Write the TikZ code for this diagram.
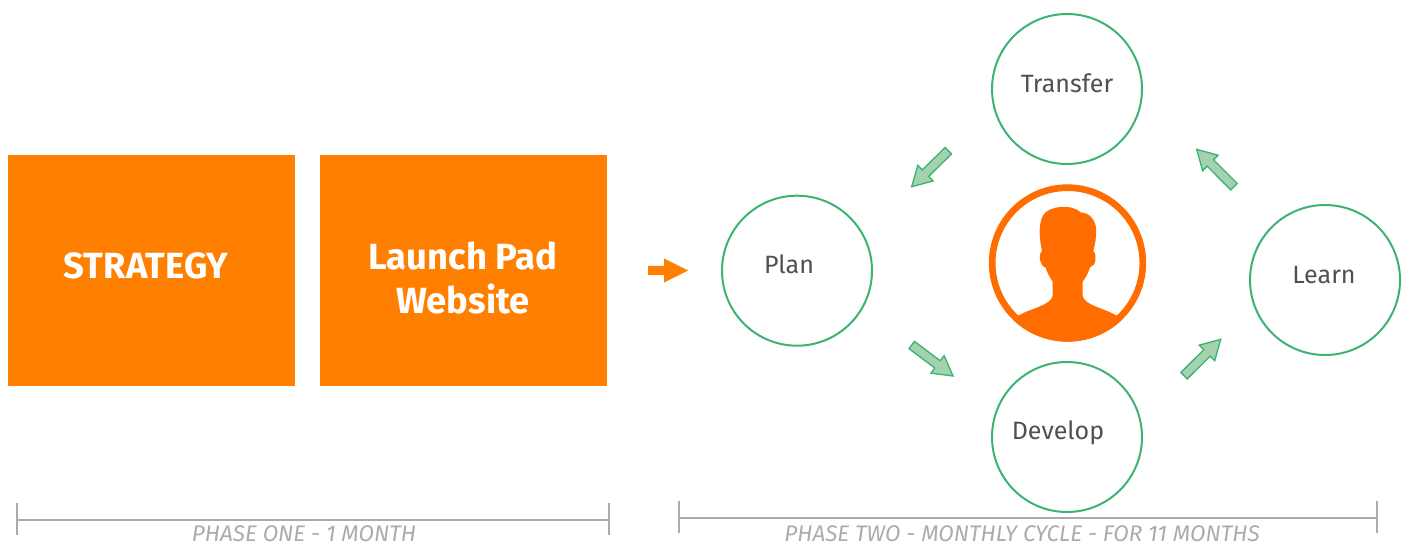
\documentclass[tikz,border=0pt]{standalone}
\usepackage{fontspec}
\setmainfont{Fira Sans}
\usetikzlibrary{calc}
\definecolor{orangebox}{HTML}{FF8000}
\definecolor{avatarorange}{HTML}{FF6D00}
\definecolor{greenline}{HTML}{3CB371}
\definecolor{greenfill}{HTML}{A5D2AE}
\definecolor{greytext}{HTML}{ABABAB}
\definecolor{greyline}{HTML}{ABABAB}
\definecolor{labeltext}{HTML}{505050}
\tikzset{
  phasebox/.style={fill=orangebox,draw=none,minimum width=215.25pt,minimum height=173.25pt,inner sep=0pt},
  boxtext/.style={text=white,font=\fontsize{27.3}{33}\selectfont\bfseries,align=center,inner sep=0pt},
  stagecircle/.style={circle,draw=greenline,line width=1.5pt,minimum size=112.5pt,inner sep=0pt},
  stagelabel/.style={text=labeltext,font=\fontsize{18.8}{21}\selectfont,inner sep=0pt},
  phaselabel/.style={text=greytext,font=\fontsize{16.9}{18}\selectfont\itshape,inner sep=0pt,anchor=base},
  bracketline/.style={draw=greyline,line width=1.4pt},
  greenarrow/.style={fill=greenfill,draw=greenline,line width=1pt,line join=miter},
  orangearrow/.style={fill=orangebox,draw=none}
}
% block arrow: #1 style, #2 tail, #3 tip, #4 half shaft, #5 head length, #6 half head
\newcommand{\blockarrow}[6]{%
  \path ($(#3)!#5!(#2)$) coordinate (ba-base);
  \path[#1] ($(#2)!#4!90:(#3)$) -- ($(ba-base)!#4!90:(#3)$) -- ($(ba-base)!#6!90:(#3)$) -- (#3)
    -- ($(ba-base)!#6!-90:(#3)$) -- ($(ba-base)!#4!-90:(#3)$) -- ($(#2)!#4!-90:(#3)$) -- cycle;
}
\begin{document}
\begin{tikzpicture}[x=0.75pt,y=-0.75pt]
\useasboundingbox (0,0) rectangle (1409,546);
\node[phasebox] (strategy) at (151.5,270.5) {};
\node[phasebox] (launch) at (463.5,270.5) {};
\node[boxtext] (strategytext) at (146,266) {STRATEGY};
\node[boxtext] (launchtext) at (463,278) {Launch Pad\\Website};

\node[stagecircle] (plan) at (797,270.7) {};
\node[stagecircle] (transfer) at (1067,89) {};
\node[stagecircle] (develop) at (1067,437) {};
\node[stagecircle] (learn) at (1325,280) {};
\node[stagelabel] (plantext) at (789,264.5) {Plan};
\node[stagelabel] (transfertext) at (1067,83.5) {Transfer};
\node[stagelabel] (developtext) at (1058,432.5) {Develop};
\node[stagelabel] (learntext) at (1324,275) {Learn};

% arrows
\coordinate (o1) at (648,270.5); \coordinate (o2) at (688,270.5);
\coordinate (a1) at (948.3,150.7); \coordinate (b1) at (911.7,186.7);
\coordinate (a2) at (911.7,345); \coordinate (b2) at (953,376);
\coordinate (a3) at (1184,375.7); \coordinate (b3) at (1220.7,339.3);
\coordinate (a4) at (1234,186.7); \coordinate (b4) at (1196.7,149.3);
\blockarrow{orangearrow}{o1}{o2}{3.4pt}{18pt}{9pt}
\blockarrow{greenarrow}{a1}{b1}{3.4pt}{14.5pt}{8.2pt}
\blockarrow{greenarrow}{a2}{b2}{3.4pt}{14.5pt}{8.2pt}
\blockarrow{greenarrow}{a3}{b3}{3.4pt}{14.5pt}{8.2pt}
\blockarrow{greenarrow}{a4}{b4}{3.4pt}{14.5pt}{8.2pt}

% avatar
\node[circle,draw=avatarorange,line width=5pt,minimum size=113pt,inner sep=0pt] (avatar) at (1067.5,263) {};
\begin{scope}
\clip (1067.5,263) circle[radius=59pt];
\begin{scope}[shift={(980,170)},x=0.25pt,y=-0.25pt]
\fill[avatarorange] (100,445) -- (115,437) .. controls (150,415) and (218,405) .. (218,375)
 -- (218,335) .. controls (208,320) and (200,305) .. (197,293)
 .. controls (182,290) and (172,255) .. (186,243)
 .. controls (180,215) and (172,165) .. (190,135)
 .. controls (205,108) and (275,100) .. (302,127)
 .. controls (340,130) and (352,165) .. (348,195)
 .. controls (347,215) and (343,230) .. (340,243)
 .. controls (352,255) and (348,288) .. (330,292)
 .. controls (325,310) and (315,325) .. (308,335)
 -- (308,375) .. controls (308,405) and (375,415) .. (410,437)
 -- (425,445) -- (425,560) -- (100,560) -- cycle;
\end{scope}
\end{scope}

% brackets
\coordinate (p1l) at (17,520); \coordinate (p1r) at (609,520);
\coordinate (p2l) at (679,518); \coordinate (p2r) at (1377,518);
\draw[bracketline] (p1l) -- (p1r);
\draw[bracketline] ($(p1l)+(0,-17)$) -- ($(p1l)+(0,15)$);
\draw[bracketline] ($(p1r)+(0,-17)$) -- ($(p1r)+(0,15)$);
\draw[bracketline] (p2l) -- (p2r);
\draw[bracketline] ($(p2l)+(0,-17)$) -- ($(p2l)+(0,15)$);
\draw[bracketline] ($(p2r)+(0,-17)$) -- ($(p2r)+(0,15)$);
\node[phaselabel] (phaseone) at (304,541) {PHASE ONE - 1 MONTH};
\node[phaselabel] (phasetwo) at (1022,541) {PHASE TWO - MONTHLY CYCLE - FOR 11 MONTHS};
\end{tikzpicture}
\end{document}
